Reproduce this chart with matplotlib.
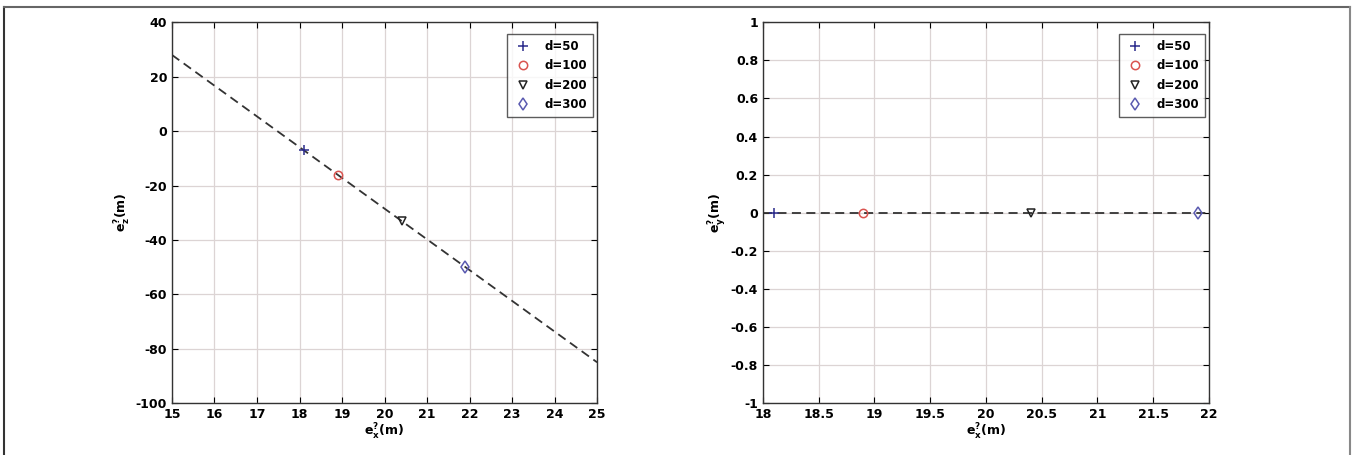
import matplotlib
matplotlib.use('Agg')
import matplotlib.pyplot as plt
from matplotlib.lines import Line2D

# Data
labels = ['d=50', 'd=100', 'd=200', 'd=300']
ex = [18.1, 18.9, 20.4, 21.9]
ez = [-7.0, -16.0, -33.0, -50.0]
ey = [0.0, 0.0, 0.0, 0.0]
fit_x = [15, 25]
fit_z = [28, -85]
flat_x = [18, 22]
flat_y = [0, 0]

markers = ['+', 'o', 'v', 'd']
colors = ['#2b2b8c', '#d9534f', '#222222', '#5a5ab0']
sizes = [7, 6, 6, 6]

plt.rcParams['font.family'] = 'DejaVu Sans'
plt.rcParams['font.weight'] = 'bold'
plt.rcParams['mathtext.default'] = 'bf'
plt.rcParams['axes.unicode_minus'] = False

fig = plt.figure(figsize=(13.54, 4.55), dpi=100)

# outer frame (top, left, right)
fig.add_artist(Line2D([0.003, 0.003], [0.0, 0.985], color='#333333', lw=1.5, transform=fig.transFigure))
fig.add_artist(Line2D([0.003, 0.997], [0.985, 0.985], color='#666666', lw=1.5, transform=fig.transFigure))
fig.add_artist(Line2D([0.997, 0.997], [0.0, 0.985], color='#888888', lw=1.5, transform=fig.transFigure))

ax1 = fig.add_axes([0.127, 0.114, 0.314, 0.837])
ax2 = fig.add_axes([0.5635, 0.114, 0.3294, 0.837])

def style(ax):
    ax.grid(True, color='#dcd4d4', lw=0.9)
    ax.set_axisbelow(True)
    ax.tick_params(direction='in', top=True, right=True, labelsize=9, length=4)
    for lab in ax.get_xticklabels() + ax.get_yticklabels():
        lab.set_fontweight('bold')
    for s in ax.spines.values():
        s.set_linewidth(1.0)
        s.set_color('#333333')

def add_legend(ax):
    leg = ax.legend(loc='upper right', bbox_to_anchor=(1.004, 0.985), fontsize=8.5,
                    frameon=True, fancybox=False, edgecolor='#333333', handlelength=1.8,
                    borderpad=0.5, labelspacing=0.55, handletextpad=0.9)
    leg.get_frame().set_linewidth(1.0)
    for t in leg.get_texts():
        t.set_fontweight('bold')

# left panel
ax1.plot(fit_x, fit_z, '--', color='#333333', lw=1.3, dashes=(5, 3))
for i in range(len(labels)):
    ax1.plot(ex[i], ez[i], linestyle='none', marker=markers[i], color=colors[i],
             mfc='none', ms=sizes[i], mew=1.1, label=labels[i])
ax1.set_xlim(15, 25)
ax1.set_ylim(-100, 40)
ax1.set_xticks(range(15, 26))
ax1.set_yticks(range(-100, 41, 20))
ax1.set_xlabel(r'$e_x^?$(m)', fontsize=9, fontweight='bold', labelpad=1)
ax1.set_ylabel(r'$e_z^?$(m)', fontsize=9, fontweight='bold', labelpad=2)
style(ax1)
add_legend(ax1)

# right panel
ax2.plot(flat_x, flat_y, '--', color='#333333', lw=1.3, dashes=(5, 3))
for i in range(len(labels)):
    ax2.plot(ex[i], ey[i], linestyle='none', marker=markers[i], color=colors[i],
             mfc='none', ms=sizes[i], mew=1.1, label=labels[i])
ax2.set_xlim(18, 22)
ax2.set_ylim(-1, 1)
ax2.set_xticks([18, 18.5, 19, 19.5, 20, 20.5, 21, 21.5, 22])
ax2.set_xticklabels(['18', '18.5', '19', '19.5', '20', '20.5', '21', '21.5', '22'])
ax2.set_yticks([-1, -0.8, -0.6, -0.4, -0.2, 0, 0.2, 0.4, 0.6, 0.8, 1])
ax2.set_yticklabels(['-1', '-0.8', '-0.6', '-0.4', '-0.2', '0', '0.2', '0.4', '0.6', '0.8', '1'])
ax2.set_xlabel(r'$e_x^?$(m)', fontsize=9, fontweight='bold', labelpad=1)
ax2.set_ylabel(r'$e_y^?$(m)', fontsize=9, fontweight='bold', labelpad=2)
style(ax2)
add_legend(ax2)

fig.savefig('out.png', dpi=100)
